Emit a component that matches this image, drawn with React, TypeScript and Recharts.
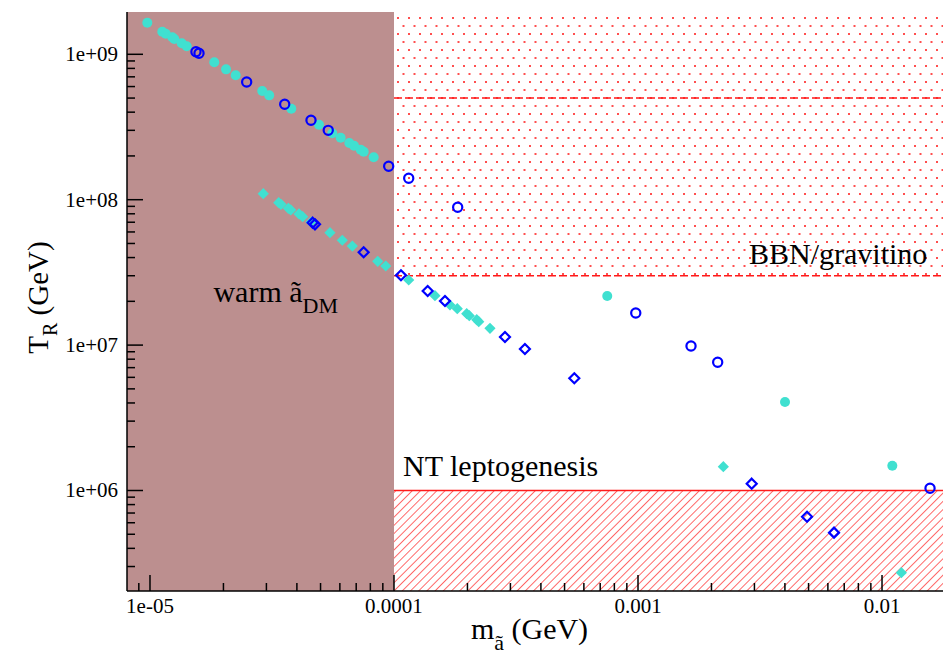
import React from 'react';
import {
  ScatterChart,
  Scatter,
  XAxis,
  YAxis,
  ReferenceArea,
  ReferenceLine,
  ReferenceDot,
  Label
} from 'recharts';

// axion/axino mass (GeV) vs reheat temperature T_R (GeV)
const TURQ_CIRCLE_X = [9.75e-6, 1.123e-5, 1.16e-5, 1.234e-5, 1.258e-5, 1.349e-5, 1.414e-5, 1.834e-5, 2.05e-5, 2.245e-5, 2.885e-5, 3.08e-5, 3.794e-5, 4.928e-5, 5.586e-5, 6.046e-5, 6.56e-5, 6.857e-5, 7.304e-5, 7.513e-5, 8.255e-5, 7.48e-4, 4.003e-3, 0.01102];
const TURQ_CIRCLE_Y = [1.65e9, 1.43e9, 1.386e9, 1.309e9, 1.274e9, 1.19e9, 1.135e9, 8.81e8, 7.88e8, 7.17e8, 5.59e8, 5.22e8, 4.226e8, 3.28e8, 2.862e8, 2.669e8, 2.455e8, 2.352e8, 2.208e8, 2.138e8, 1.957e8, 2.177e7, 4.06e6, 1.481e6];

const BLUE_CIRCLE_X = [1.543e-5, 1.588e-5, 2.49e-5, 3.565e-5, 4.569e-5, 5.377e-5, 9.51e-5, 1.149e-4, 1.824e-4, 9.79e-4, 1.649e-3, 2.121e-3, 0.01573];
const BLUE_CIRCLE_Y = [1.042e9, 1.016e9, 6.45e8, 4.53e8, 3.517e8, 3.0e8, 1.697e8, 1.404e8, 8.865e7, 1.663e7, 9.86e6, 7.615e6, 1.035e6];

const TURQ_DIAMOND_X = [2.912e-5, 3.37e-5, 3.443e-5, 3.69e-5, 3.774e-5, 4.08e-5, 4.223e-5, 4.569e-5, 5.464e-5, 6.14e-5, 6.75e-5, 8.575e-5, 9.25e-5, 1.149e-4, 1.472e-4, 1.696e-4, 1.817e-4, 1.986e-4, 2.035e-4, 2.183e-4, 2.225e-4, 2.474e-4, 2.237e-3, 0.012];
const TURQ_DIAMOND_Y = [1.1e8, 9.54e7, 9.3e7, 8.73e7, 8.5e7, 7.98e7, 7.64e7, 7.025e7, 5.93e7, 5.26e7, 4.8e7, 3.77e7, 3.5e7, 2.804e7, 2.187e7, 1.887e7, 1.78e7, 1.644e7, 1.593e7, 1.495e7, 1.449e7, 1.305e7, 1.458e6, 2.72e5];

const BLUE_DIAMOND_X = [4.643e-5, 4.745e-5, 7.51e-5, 1.068e-4, 1.374e-4, 1.618e-4, 2.85e-4, 3.44e-4, 5.482e-4, 2.924e-3, 4.928e-3, 6.358e-3];
const BLUE_DIAMOND_Y = [6.95e7, 6.77e7, 4.35e7, 3.02e7, 2.355e7, 2.01e7, 1.137e7, 9.4e6, 5.91e6, 1.114e6, 6.6e5, 5.13e5];

// constraint boundaries
const WARM_DM_MAX_X = 1e-4;
const BBN_LOW_Y = 3e7;
const BBN_MID_Y = 5e8;
const LEPTO_Y = 1e6;

const X_DOMAIN: [number, number] = [8.05e-6, 0.0201];
const Y_DOMAIN: [number, number] = [2.036e5, 1.954e9];

const X_MAJOR = [1e-5, 1e-4, 1e-3, 1e-2];
const X_LABELS = ['1e-05', '0.0001', '0.001', '0.01'];
const Y_MAJOR = [1e6, 1e7, 1e8, 1e9];
const Y_LABELS = ['1e+06', '1e+07', '1e+08', '1e+09'];
const MINOR_MULT = [2, 3, 4, 5, 6, 7, 8, 9];

const FONT = "'Liberation Serif', 'Times New Roman', serif";
const TURQ = '#40E0D0';
const BLUE = '#0000FF';
const RED = '#ff1a1a';

const withMinors = (majors: number[], dom: [number, number]) => {
  const out: number[] = [];
  majors.concat([majors[0] / 10]).forEach((m) => {
    out.push(m);
    MINOR_MULT.forEach((k) => out.push(m * k));
  });
  return out.filter((v) => v >= dom[0] && v <= dom[1]).sort((a, b) => a - b);
};

const X_TICKS = withMinors(X_MAJOR, X_DOMAIN);
const Y_TICKS = withMinors(Y_MAJOR, Y_DOMAIN);

const toPoints = (xs: number[], ys: number[]) => xs.map((x, i) => ({ x, y: ys[i] }));

const makeTick = (side: 'bottom' | 'top' | 'left' | 'right', majors: number[], labels: string[]) =>
  (props: any) => {
    const { x, y, payload } = props;
    const v = payload.value;
    const idx = majors.findIndex((m) => Math.abs(m - v) / m < 1e-6);
    const len = idx >= 0 ? 16 : 8;
    let line;
    let text = null;
    if (side === 'bottom') {
      line = <line x1={x} y1={y} x2={x} y2={y - len} stroke="#000" strokeWidth={1.5} />;
      if (idx >= 0)
        text = <text x={x} y={y + 22} textAnchor="middle" fontFamily={FONT} fontSize={21} fill="#000">{labels[idx]}</text>;
    } else if (side === 'top') {
      line = <line x1={x} y1={y} x2={x} y2={y + len} stroke="#000" strokeWidth={1.5} />;
    } else if (side === 'left') {
      line = <line x1={x} y1={y} x2={x + len} y2={y} stroke="#000" strokeWidth={1.5} />;
      if (idx >= 0)
        text = <text x={x - 9} y={y + 7} textAnchor="end" fontFamily={FONT} fontSize={21} fill="#000">{labels[idx]}</text>;
    } else {
      line = <line x1={x} y1={y} x2={x - len} y2={y} stroke="#000" strokeWidth={1.5} />;
    }
    return <g>{line}{text}</g>;
  };

const FilledCircle = (p: any) => <circle cx={p.cx} cy={p.cy} r={5} fill={TURQ} />;
const OpenCircle = (p: any) => <circle cx={p.cx} cy={p.cy} r={4.6} fill="none" stroke={BLUE} strokeWidth={2.2} />;
const FilledDiamond = (p: any) => {
  const s = 5.6;
  return <path d={`M${p.cx},${p.cy - s}L${p.cx + s},${p.cy}L${p.cx},${p.cy + s}L${p.cx - s},${p.cy}Z`} fill={TURQ} />;
};
const OpenDiamond = (p: any) => {
  const s = 5;
  return (
    <path d={`M${p.cx},${p.cy - s}L${p.cx + s},${p.cy}L${p.cx},${p.cy + s}L${p.cx - s},${p.cy}Z`}
      fill="none" stroke={BLUE} strokeWidth={2.2} />
  );
};

const YTitle = (props: any) => {
  const { viewBox } = props;
  const cx = viewBox.x + 48;
  const cy = viewBox.y + viewBox.height / 2 - 4;
  return (
    <text transform={`translate(${cx},${cy}) rotate(-90)`} textAnchor="middle" fontFamily={FONT} fontSize={29} fill="#000">
      T<tspan dy={9} fontSize={20}>R</tspan><tspan dy={-9}> (GeV)</tspan>
    </text>
  );
};

const XTitle = (props: any) => {
  const { viewBox } = props;
  const cx = viewBox.x + viewBox.width / 2 - 12;
  return (
    <text x={cx} y={viewBox.y + 48} textAnchor="middle" fontFamily={FONT} fontSize={30} fill="#000">
      m<tspan dy={11} fontSize={22}>ã</tspan><tspan dy={-11}> (GeV)</tspan>
    </text>
  );
};

const note = (content: React.ReactNode) => (props: any) => {
  const { viewBox } = props;
  return (
    <text x={viewBox.x} y={viewBox.y} fontFamily={FONT} fontSize={30} fill="#000">
      {content}
    </text>
  );
};

export default function App() {
  return (
    <div style={{ position: 'fixed', left: 0, top: 0, width: 943, height: 656, overflow: 'hidden', background: '#fff' }}>
      <ScatterChart width={960} height={656} margin={{ top: 12, right: 4, bottom: 0, left: 0 }}>
        <defs>
          <pattern id="dots" width="11" height="16" patternUnits="userSpaceOnUse">
            <rect x="1" y="1" width="2" height="2" fill="#ff3030" fillOpacity={0.85} />
            <rect x="6.5" y="9" width="2" height="2" fill="#ff3030" fillOpacity={0.85} />
          </pattern>
          <pattern id="hatch" width="5.8" height="5.8" patternUnits="userSpaceOnUse" patternTransform="rotate(45)">
            <line x1="0" y1="0" x2="0" y2="5.8" stroke={RED} strokeWidth="1.3" />
          </pattern>
        </defs>
        <XAxis dataKey="x" type="number" scale="log" domain={X_DOMAIN} allowDataOverflow ticks={X_TICKS}
          interval={0} height={65} tickSize={0} tickMargin={0} tickLine={false}
          axisLine={{ stroke: '#000', strokeWidth: 1.5 }} tick={makeTick('bottom', X_MAJOR, X_LABELS)}>
          <Label content={XTitle} />
        </XAxis>
        <XAxis xAxisId="top" orientation="top" dataKey="x" type="number" scale="log" domain={X_DOMAIN}
          allowDataOverflow ticks={X_TICKS} interval={0} height={0} tickSize={0} tickMargin={0} tickLine={false}
          axisLine={{ stroke: '#000', strokeWidth: 1.5 }} tick={makeTick('top', X_MAJOR, X_LABELS)} />
        <YAxis dataKey="y" type="number" scale="log" domain={Y_DOMAIN} allowDataOverflow ticks={Y_TICKS}
          interval={0} width={127} tickSize={0} tickMargin={0} tickLine={false}
          axisLine={{ stroke: '#000', strokeWidth: 1.5 }} tick={makeTick('left', Y_MAJOR, Y_LABELS)}>
          <Label content={YTitle} />
        </YAxis>
        <YAxis yAxisId="right" orientation="right" dataKey="y" type="number" scale="log" domain={Y_DOMAIN}
          allowDataOverflow ticks={Y_TICKS} interval={0} width={0} tickSize={0} tickMargin={0} tickLine={false}
          axisLine={{ stroke: '#000', strokeWidth: 1.5 }} tick={makeTick('right', Y_MAJOR, Y_LABELS)} />

        <ReferenceArea x1={X_DOMAIN[0]} x2={WARM_DM_MAX_X} y1={Y_DOMAIN[0]} y2={Y_DOMAIN[1]}
          fill="#BC8F8F" fillOpacity={1} stroke="none" />
        <ReferenceArea x1={WARM_DM_MAX_X} x2={X_DOMAIN[1]} y1={BBN_LOW_Y} y2={Y_DOMAIN[1]}
          fill="url(#dots)" fillOpacity={1} stroke="none" />
        <ReferenceArea x1={WARM_DM_MAX_X} x2={X_DOMAIN[1]} y1={Y_DOMAIN[0]} y2={LEPTO_Y}
          fill="url(#hatch)" fillOpacity={1} stroke="none" />
        <ReferenceLine segment={[{ x: WARM_DM_MAX_X, y: BBN_MID_Y }, { x: X_DOMAIN[1], y: BBN_MID_Y }]}
          stroke={RED} strokeWidth={1.5} strokeDasharray="8 3" />
        <ReferenceLine segment={[{ x: WARM_DM_MAX_X, y: BBN_LOW_Y }, { x: X_DOMAIN[1], y: BBN_LOW_Y }]}
          stroke={RED} strokeWidth={1.5} strokeDasharray="8 3" />
        <ReferenceLine segment={[{ x: WARM_DM_MAX_X, y: LEPTO_Y }, { x: X_DOMAIN[1], y: LEPTO_Y }]}
          stroke={RED} strokeWidth={1.5} />

        <ReferenceDot x={2.85e-3} y={3.61e7} r={0} fill="none" stroke="none" label={note('BBN/gravitino')} />
        <ReferenceDot x={1.089e-4} y={1.258e6} r={0} fill="none" stroke="none" label={note('NT leptogenesis')} />
        <ReferenceDot x={1.82e-5} y={1.99e7} r={0} fill="none" stroke="none"
          label={note(<>warm ã<tspan dy={11} fontSize={22}>DM</tspan></>)} />

        <Scatter data={toPoints(TURQ_CIRCLE_X, TURQ_CIRCLE_Y)} shape={FilledCircle} isAnimationActive={false} />
        <Scatter data={toPoints(TURQ_DIAMOND_X, TURQ_DIAMOND_Y)} shape={FilledDiamond} isAnimationActive={false} />
        <Scatter data={toPoints(BLUE_CIRCLE_X, BLUE_CIRCLE_Y)} shape={OpenCircle} isAnimationActive={false} />
        <Scatter data={toPoints(BLUE_DIAMOND_X, BLUE_DIAMOND_Y)} shape={OpenDiamond} isAnimationActive={false} />
      </ScatterChart>
    </div>
  );
}
